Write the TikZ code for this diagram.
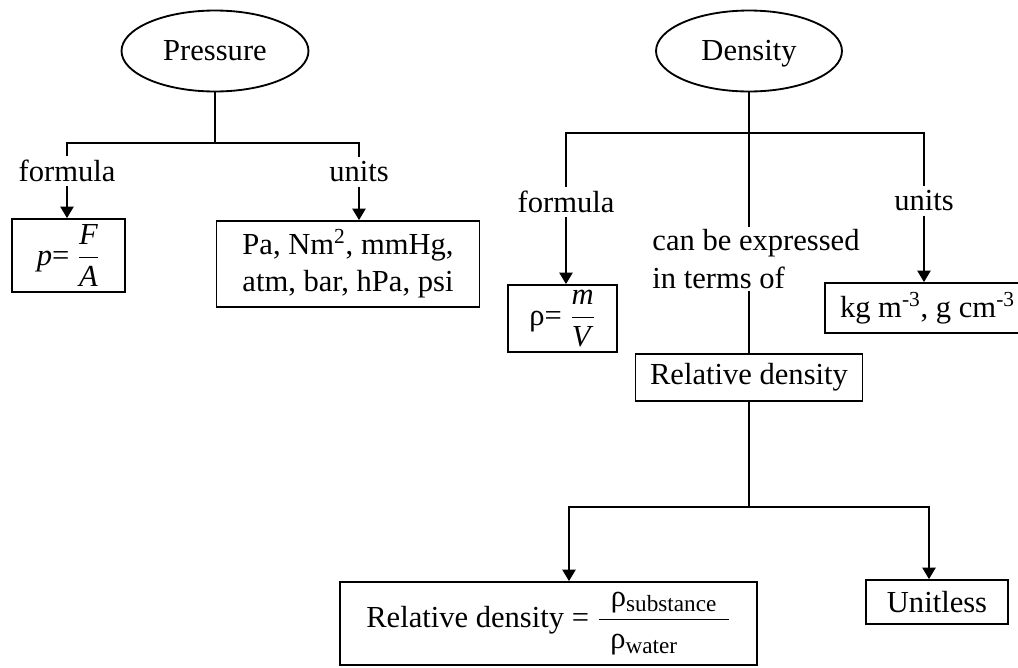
\documentclass[tikz,border=0pt]{standalone}
\usepackage{amsmath}
\usepackage{fontspec}
\setmainfont{Liberation Serif}
\usetikzlibrary{shapes.geometric,arrows.meta}

\newcommand{\lowsub}[1]{\raisebox{-0.35ex}{\fontsize{13.2}{15}\selectfont #1}}

\tikzset{
  topic/.style={ellipse, draw, minimum width=3.74cm, minimum height=1.62cm, inner sep=0pt,
    text height=12pt, text depth=1.5pt},
  box/.style={rectangle, draw, inner sep=0pt, align=center},
  tag/.style={inner sep=2pt},
  arr/.style={-{Triangle[length=6.5pt,width=7.5pt]}},
}

\begin{document}
\begin{tikzpicture}[x=0.02cm, y=-0.02cm, line width=1.05pt, font=\fontsize{17.4}{21.2}\selectfont]
\useasboundingbox (0,0) rectangle (1018,667);
% pressure branch
\node[topic] (pres) at (215,51) {Pressure};
\coordinate (pj) at (215,143);
\node[tag] (pfl) at (67,171) {formula};
\node[tag] (pul) at (359,172) {units};
\node[box, minimum width=2.26cm, minimum height=1.46cm] (pform) at (68.5,255.5) {\textit{p}= $\dfrac{\mbox{\textit{F}}}{\mbox{\textit{A}}}$};
\node[box, minimum width=5.26cm, minimum height=1.72cm] (punits) at (348,264) {Pa, Nm\textsuperscript{2}, mmHg,\\atm, bar, hPa, psi};
\draw (pres) -- (pj);
\draw (pfl.north) |- (pj) -| (pul.north);
\draw[arr] (pfl) -- (pfl |- pform.north);
\draw[arr] (pul) -- (pul |- punits.north);
% density branch
\node[topic, minimum width=3.72cm] (dens) at (749,51) {Density};
\coordinate (dj) at (749,133);
\node[tag] (dfl) at (566,202) {formula};
\node[tag, align=left, inner sep=1pt] (expr) at (756,259) {can be expressed\\in terms of};
\node[tag] (dul) at (924,201) {units};
\node[box, minimum width=2.18cm, minimum height=1.34cm] (dform) at (562.5,318.5) {ρ= $\dfrac{\mbox{\textit{m}}}{\mbox{\textit{V}}}$};
\node[box, minimum width=4.1cm, minimum height=1cm] (dunits) at (927.5,308) {kg m\textsuperscript{-3}, g cm\textsuperscript{-3}};
\node[box, minimum width=4.54cm, minimum height=0.94cm] (rel) at (749,377.5) {Relative density};
\draw (dens) -- (dj);
\draw (dfl.north) |- (dj) -| (dul.north);
\draw[arr] (dfl) -- (dfl |- dform.north);
\draw[arr] (dul) -- (dul |- dunits.north);
\draw (dj) -- (dj |- expr.north);
\draw (dj |- expr.south) -- (rel);
% relative density
\coordinate (rj) at (749,507);
\node[box, minimum width=8.34cm, minimum height=1.66cm] (rform) at (548.5,623.5) {Relative density = $\dfrac{\mbox{\hspace{0.4em}ρ\lowsub{substance}\hspace{0.4em}}}{\mbox{ρ\lowsub{water}\hspace{1.3em}}}$};
\node[box, minimum width=2.84cm, minimum height=0.88cm] (unitless) at (937,602) {Unitless};
\draw (rel) -- (rj);
\draw[arr] (rj) -| ([xshift=0.41cm]rform.north);
\draw[arr] (rj) -| ([xshift=-0.16cm]unitless.north);
\end{tikzpicture}
\end{document}
